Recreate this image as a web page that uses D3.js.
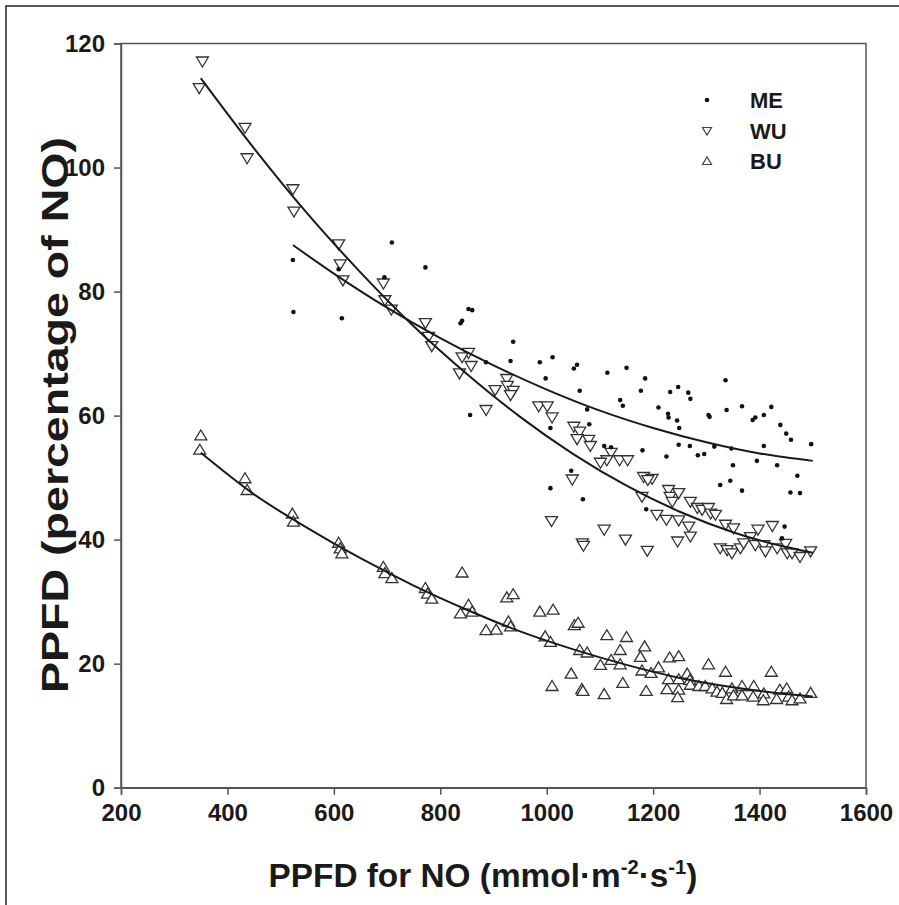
<!DOCTYPE html>
<html><head><meta charset="utf-8">
<script src="https://cdn.jsdelivr.net/npm/d3@7"></script>
<style>body{margin:0;background:#fff}svg{display:block}text{font-family:"Liberation Sans",Arial,sans-serif;font-weight:bold;fill:#1a1a1a}</style>
</head><body>
<script>
// ---- data ----
const xTicks = [200,400,600,800,1000,1200,1400,1600];
const yTicks = [0,20,40,60,80,100,120];
const seriesNames = ["ME","WU","BU"];

const meX = [523,524,615,609,709,695,772,853,860,838,841,937,932,886,1011,987,998,1051,1057,1062,1114,1150,1185,1177,1138,1143,1076,1080,1007,856,1108,1121,1180,1046,1336,1232,1247,1266,1270,1210,1228,1229,1245,1249,1304,1306,1338,1367,1422,1387,1392,1408,1439,1450,1459,1497,1248,1269,1284,1296,1315,1347,1225,1408,1350,1395,1433,1471,1326,1345,1367,1458,1476,1187,1447,1442,1007,1068];
const meY = [85.1,76.7,75.7,83.6,87.9,82.3,83.9,77.2,77.0,74.9,75.3,71.9,68.8,68.6,69.4,68.6,66.0,67.6,68.2,64.0,66.9,67.7,66.0,64.0,62.5,61.6,61.0,58.6,58.0,60.1,55.1,54.9,54.4,51.1,65.7,63.8,64.6,63.7,62.7,61.3,60.3,59.7,59.2,58.0,60.1,59.8,60.9,61.5,61.4,59.3,59.7,60.1,58.5,57.1,56.1,55.4,55.3,55.1,53.6,53.8,55.0,54.7,53.4,55.1,52.0,52.7,52.0,50.3,48.8,49.5,47.9,47.6,47.5,44.9,42.1,40.2,48.3,46.5];

const wuX = [353,347,433,437,523,525,609,612,617,693,696,708,772,778,784,853,841,858,836,925,926,937,932,903,886,985,1001,1010,1051,1062,1057,1079,1082,1121,1113,1101,1137,1152,1048,1182,1198,1190,1179,1229,1232,1236,1248,1270,1283,1292,1304,1308,1317,1207,1225,1248,1267,1270,1246,1336,1351,1397,1424,1383,1392,1326,1339,1348,1364,1370,1408,1411,1433,1449,1452,1461,1476,1496,1189,1009,1067,1069,1108,1148];
const wuY = [117.1,112.8,106.4,101.5,96.5,92.9,87.6,84.4,81.8,81.3,78.6,77.1,74.9,72.7,71.2,70.1,69.4,68.0,66.8,65.9,64.8,64.0,63.3,64.1,60.9,61.5,61.5,59.7,58.2,57.4,56.2,56.1,55.1,54.0,52.8,52.4,52.8,52.8,49.7,50.1,49.8,49.6,46.9,48.0,46.9,46.1,47.5,46.1,45.1,44.8,45.1,44.2,44.0,44.0,43.2,43.1,42.1,40.5,39.7,42.4,41.8,41.6,42.2,40.4,39.1,38.6,38.3,37.8,38.6,39.4,39.1,38.1,38.6,39.3,37.8,37.8,37.2,38.1,38.2,43.0,39.4,39.0,41.6,40.0];

const buX = [350,348,433,437,522,524,609,612,615,693,696,709,772,776,784,841,838,853,860,925,937,886,905,928,932,987,1012,997,1007,1052,1059,1062,1076,1113,1150,1138,1101,1121,1138,1184,1176,1179,1196,1210,1046,1010,1066,1068,1108,1143,1187,1231,1248,1304,1336,1422,1226,1248,1246,1229,1248,1264,1269,1270,1286,1298,1311,1320,1330,1338,1348,1351,1367,1367,1389,1388,1408,1407,1432,1438,1451,1455,1461,1476,1496];
const buY = [56.8,54.5,49.9,48.0,44.2,42.9,39.5,38.6,37.8,35.6,34.6,33.8,32.2,31.3,30.5,34.7,28.1,29.5,28.4,30.7,31.2,25.4,25.5,26.8,26.0,28.4,28.7,24.4,23.5,26.2,26.6,22.2,21.8,24.6,24.3,22.2,19.8,20.6,19.9,22.8,21.1,18.9,18.5,19.4,18.4,16.4,15.9,15.6,15.1,16.9,15.6,21.0,21.2,19.9,18.7,18.7,15.9,15.8,14.6,17.5,17.5,18.4,17.4,16.6,16.4,16.4,16.0,15.5,15.3,14.3,16.0,14.9,16.4,14.9,16.4,14.7,15.2,14.1,14.3,15.8,16.0,14.7,14.1,14.4,15.3];

// fitted curves
const meFitX = [523,600,700,800,900,1000,1100,1200,1300,1400,1500];
const meFitY = [87.5,82.9,77.4,72.5,68.1,64.2,60.8,58.0,55.7,53.9,52.7];
const wuFitX = [350,450,550,650,750,850,950,1050,1150,1250,1350,1450,1500];
const wuFitY = [114.4,103.1,92.6,83.1,74.4,66.7,59.8,53.8,48.7,44.5,41.2,38.8,37.9];
const buFitX = [350,450,550,650,750,850,950,1050,1150,1250,1350,1450,1500];
const buFitY = [54.0,47.3,41.9,37.0,32.6,28.7,25.2,22.3,19.8,17.7,16.2,15.1,14.7];

// ---- layout ----
const W = 899, H = 905;
const L = 121, R = 866, T = 43.5, B = 787.7;
const svg = d3.select("body").append("svg").attr("width", W).attr("height", H);

// outer frame (left + top)
svg.append("path").attr("d", `M6,${H} V6 H${W}`).attr("fill","none").attr("stroke","#222").attr("stroke-width",1.5);

const x = d3.scaleLinear().domain([200,1600]).range([L,R]);
const y = d3.scaleLinear().domain([0,120]).range([B,T]);

const axisColor = "#555";
svg.append("rect").attr("x",L).attr("y",T).attr("width",R-L).attr("height",B-T)
  .attr("fill","none").attr("stroke",axisColor).attr("stroke-width",1.5);

const gx = svg.append("g").attr("transform",`translate(0,${B})`)
  .call(d3.axisBottom(x).tickValues(xTicks).tickSize(7).tickPadding(9).tickFormat(d3.format("d")));
const gy = svg.append("g").attr("transform",`translate(${L},0)`)
  .call(d3.axisLeft(y).tickValues(yTicks).tickSize(7).tickPadding(9).tickFormat(d3.format("d")));
[gx,gy].forEach(g=>{
  g.select(".domain").attr("stroke",axisColor).attr("stroke-width",1.5);
  g.selectAll(".tick line").attr("stroke",axisColor).attr("stroke-width",1.5);
  g.selectAll(".tick text").attr("font-size",24).attr("font-family","Liberation Sans, Arial, sans-serif").attr("font-weight","bold").attr("fill","#1a1a1a");
});

// fit lines
const line = d3.line().x(d=>x(d[0])).y(d=>y(d[1])).curve(d3.curveMonotoneX);
function drawFit(xs, ys){
  svg.append("path").datum(xs.map((v,i)=>[v,ys[i]])).attr("d",line)
    .attr("fill","none").attr("stroke","#1a1a1a").attr("stroke-width",2);
}

// markers
const triDown = "M-6,-4.5 L6,-4.5 L0,5.5 Z";
const triUp = "M-6,4.5 L6,4.5 L0,-5.5 Z";
function drawTri(xs, ys, path){
  svg.append("g").selectAll("path").data(xs.map((v,i)=>[v,ys[i]])).join("path")
    .attr("d",path).attr("transform",d=>`translate(${x(d[0])},${y(d[1])})`)
    .attr("fill","#fff").attr("stroke","#333").attr("stroke-width",1.3);
}
drawTri(buX, buY, triUp);
drawTri(wuX, wuY, triDown);
svg.append("g").selectAll("circle").data(meX.map((v,i)=>[v,meY[i]])).join("circle")
  .attr("cx",d=>x(d[0])).attr("cy",d=>y(d[1])).attr("r",2.3).attr("fill","#111");

drawFit(meFitX, meFitY);
drawFit(wuFitX, wuFitY);
drawFit(buFitX, buFitY);

// legend
const lg = svg.append("g");
const legY = [100,131,161];
lg.append("circle").attr("cx",707).attr("cy",legY[0]).attr("r",2.3).attr("fill","#111");
lg.append("path").attr("d","M-4.5,-3.5 L4.5,-3.5 L0,4 Z").attr("transform",`translate(707,${legY[1]})`).attr("fill","#fff").attr("stroke","#444").attr("stroke-width",1.2);
lg.append("path").attr("d","M-4.5,3.5 L4.5,3.5 L0,-4 Z").attr("transform",`translate(707,${legY[2]})`).attr("fill","#fff").attr("stroke","#444").attr("stroke-width",1.2);
seriesNames.forEach((n,i)=>{
  lg.append("text").attr("x",750).attr("y",legY[i]+8).attr("font-size",22).text(n);
});

// axis titles
const xt = svg.append("text").attr("x",483).attr("y",887).attr("text-anchor","middle").attr("font-size",33)
  .attr("textLength",429).attr("lengthAdjust","spacingAndGlyphs");
xt.append("tspan").text("PPFD for NO (mmol·m");
xt.append("tspan").attr("dy",-13).attr("font-size",20).text("-2");
xt.append("tspan").attr("dy",13).text("·s");
xt.append("tspan").attr("dy",-13).attr("font-size",20).text("-1");
xt.append("tspan").attr("dy",13).text(")");

svg.append("text").attr("transform",`translate(68,415) rotate(-90)`)
  .attr("text-anchor","middle").attr("font-size",37)
  .attr("textLength",556).attr("lengthAdjust","spacingAndGlyphs").text("PPFD (percentage of NO)");
</script>
</body></html>
